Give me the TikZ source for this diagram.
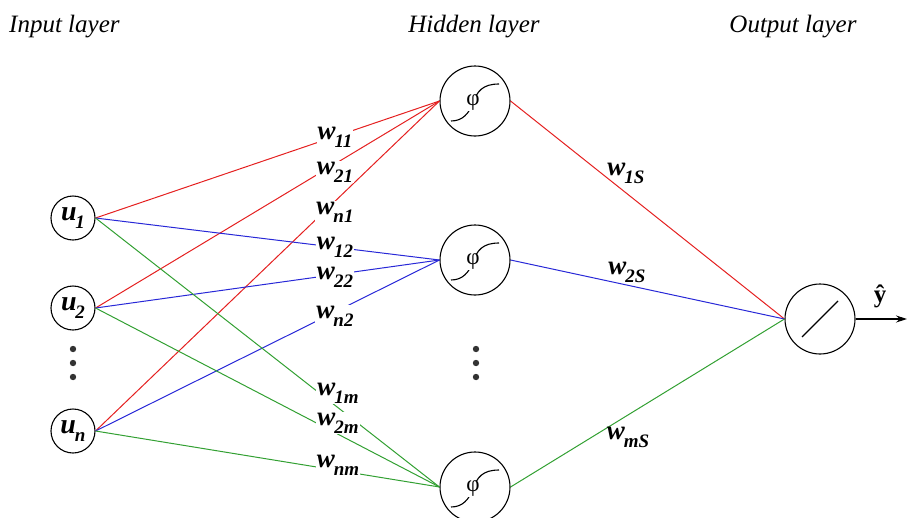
\documentclass[tikz,border=0pt]{standalone}
\usepackage{fontspec}
\setmainfont{Liberation Serif}
\usetikzlibrary{arrows.meta}
\definecolor{cred}{RGB}{228,32,32}
\definecolor{cblue}{RGB}{40,40,215}
\definecolor{cgreen}{RGB}{50,160,50}
\newcommand{\wlab}[2]{\textbf{\textit{#1}}\kern-0.04em\raisebox{-0.3em}{\fontsize{19}{19}\selectfont\textbf{\textit{#2}}}}
\begin{document}
\begin{tikzpicture}[x=1pt,y=-1pt,
  neuron/.style={circle,draw,line width=1.1pt,inner sep=0pt},
  inneuron/.style={neuron,minimum size=44pt},
  bigneuron/.style={neuron,minimum size=70pt},
  wl/.style={fill=white,inner sep=1pt,font=\fontsize{27}{27}\selectfont},
  wo/.style={inner sep=0pt,font=\fontsize{27}{27}\selectfont},
  head/.style={font=\fontsize{25}{25}\selectfont\itshape,inner sep=0pt},
  conn/.style={line width=1pt},
  dot/.style={fill=black!80,draw=none}
]
\useasboundingbox (0,0) rectangle (907,517);

% headers
\node[head,anchor=west] (hin) at (9,27) {Input layer};
\node[head] (hhid) at (474,27) {Hidden layer};
\node[head] (hout) at (793,27) {Output layer};

% nodes
\node[inneuron] (u1) at (73,218) {\fontsize{28}{28}\selectfont\wlab{u}{1}};
\node[inneuron] (u2) at (73,308) {\fontsize{28}{28}\selectfont\wlab{u}{2}};
\node[inneuron] (un) at (73,431) {\fontsize{28}{28}\selectfont\wlab{u}{n}};
\node[bigneuron] (h1) at (475,101) {};
\node[bigneuron] (h2) at (475,260) {};
\node[bigneuron] (hm) at (475,487) {};
\node[bigneuron] (o) at (820,319) {};
\coordinate (yend) at (907,319);

% dots
\foreach \y in {349,363,377} {
  \fill[dot] (73,\y) circle (3.2);
  \fill[dot] (476,\y) circle (3.2);
}

% sigmoid symbols
\foreach \n in {h1,h2,hm} {
  \draw[line width=1.1pt] ([shift={(-24,20)}]\n.center) .. controls ([shift={(-12,20)}]\n.center) and ([shift={(-6,12)}]\n.center) .. ([shift={(-2,2)}]\n.center)
     .. controls ([shift={(2,-10)}]\n.center) and ([shift={(8,-17)}]\n.center) .. ([shift={(24,-17)}]\n.center);
  \node[fill=white,inner sep=0.3pt,font=\fontsize{23}{23}\selectfont] (phi\n) at ([shift={(-2,2)}]\n.center) {φ};
}
\draw[line width=1.1pt] ([shift={(-18,18)}]o.center) -- ([shift={(18,-18)}]o.center);

% connections input -> hidden
\draw[conn,cred] (u1.east) -- (h1.west);
\draw[conn,cred] (u2.east) -- (h1.west);
\draw[conn,cred] (un.east) -- (h1.west);
\draw[conn,cblue] (u1.east) -- (h2.west);
\draw[conn,cblue] (u2.east) -- (h2.west);
\draw[conn,cblue] (un.east) -- (h2.west);
\draw[conn,cgreen] (u1.east) -- (hm.west);
\draw[conn,cgreen] (u2.east) -- (hm.west);
\draw[conn,cgreen] (un.east) -- (hm.west);
% hidden -> output
\draw[conn,cred] (h1.east) -- (o.west);
\draw[conn,cblue] (h2.east) -- (o.west);
\draw[conn,cgreen] (hm.east) -- (o.west);
\draw[line width=1.1pt,-{Stealth[length=11pt,width=7pt]}] (o.east) -- (yend);

% weight labels
\node[wl] (w11) at (335,137) {\wlab{w}{11}};
\node[wl] (w21) at (335,172) {\wlab{w}{21}};
\node[wl] (wn1) at (335,212) {\wlab{w}{n1}};
\node[wl] (w12) at (335,247) {\wlab{w}{12}};
\node[wl] (w22) at (335,277) {\wlab{w}{22}};
\node[wl] (wn2) at (335,316) {\wlab{w}{n2}};
\node[wl] (w1m) at (338,393) {\wlab{w}{1m}};
\node[wl] (w2m) at (338,423) {\wlab{w}{2m}};
\node[wl] (wnm) at (338,465) {\wlab{w}{nm}};
\node[wo] (w1s) at (626,173) {\wlab{w}{1S}};
\node[wo] (w2s) at (627,272) {\wlab{w}{2S}};
\node[wo] (wms) at (628,437) {\wlab{w}{mS}};

\node[font=\fontsize{25}{25}\selectfont\bfseries,inner sep=0pt] (yhat) at (880,296) {ŷ};
\end{tikzpicture}
\end{document}
